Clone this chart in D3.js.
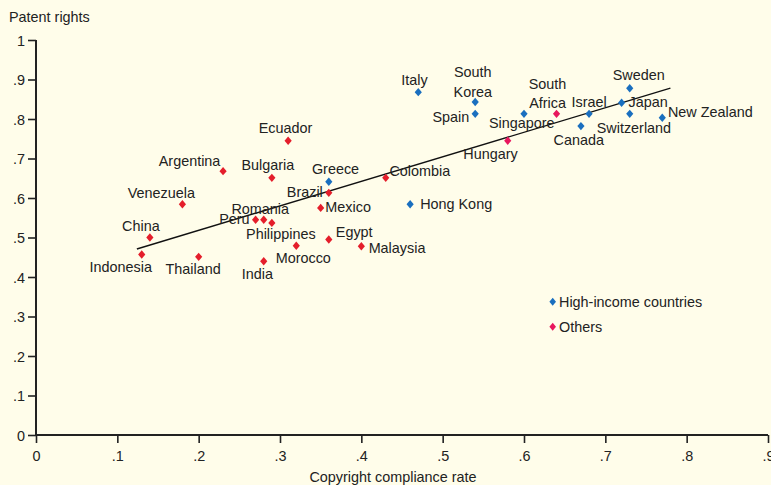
<!DOCTYPE html>
<html><head><meta charset="utf-8">
<script src="https://cdn.jsdelivr.net/npm/d3@7"></script>
<style>
html,body{margin:0;padding:0;background:#fffdea;}
svg{display:block;}
text{font-family:"Liberation Sans",Arial,sans-serif;fill:#222;}
</style></head><body>
<script>
// ---- data ----
const countries = ["Indonesia","China","Thailand","Venezuela","Argentina","Peru","Romania","Philippines","India","Bulgaria","Ecuador","Morocco","Mexico","Greece","Brazil","Egypt","Malaysia","Colombia","Hong Kong","Italy","South Korea","Spain","Hungary","Singapore","South Africa","Canada","Israel","Japan","Sweden","Switzerland","New Zealand"];
const copyright = [0.13,0.14,0.20,0.18,0.23,0.27,0.28,0.29,0.28,0.29,0.31,0.32,0.35,0.36,0.36,0.36,0.40,0.43,0.46,0.47,0.54,0.54,0.58,0.60,0.64,0.67,0.68,0.72,0.73,0.73,0.77];
const patent    = [0.457,0.50,0.451,0.584,0.668,0.545,0.545,0.537,0.44,0.651,0.745,0.479,0.575,0.641,0.613,0.495,0.478,0.651,0.584,0.868,0.843,0.813,0.745,0.813,0.813,0.782,0.813,0.841,0.878,0.813,0.803];
const group     = ["O","O","O","O","O","O","O","O","O","O","O","O","O","H","O","O","O","O","H","H","H","H","P","H","P","H","H","H","H","H","H"];
const fitX = [0.124, 0.78];
const fitY = [0.471, 0.878];
const xTicks = [0,0.1,0.2,0.3,0.4,0.5,0.6,0.7,0.8,0.9];
const yTicks = [0,0.1,0.2,0.3,0.4,0.5,0.6,0.7,0.8,0.9,1];
const legendItems = [["High-income countries","H"],["Others","P"]];

// ---- layout / style ----
const colors = {H:"#1a6fbf", O:"#e41e2b", P:"#e8175d"};
const lab = {
 "Indonesia":["middle",-21,18],"China":["middle",-9,-7],"Thailand":["middle",-5.5,17.6],
 "Venezuela":["middle",-21,-6.7],"Argentina":["middle",-33.5,-5.3],"Peru":["end",-6,4.3],
 "Romania":["middle",-3.5,-6],"Philippines":["middle",9,16.3],"India":["middle",-6.3,17.3],
 "Bulgaria":["middle",-4,-7.7],"Ecuador":["middle",-2.6,-7.4],"Morocco":["middle",7,17],
 "Mexico":["start",4.7,4.6],"Greece":["middle",6.7,-7.7],"Brazil":["end",-6,4.3],
 "Egypt":["start",7,-2],"Malaysia":["start",7.3,6.4],"Colombia":["start",3.7,-1.7],
 "Hong Kong":["start",10,4.7],"Italy":["middle",-3.7,-7.3],"South Korea":["middle",-2.4,-25.3],
 "Spain":["end",-6,8],"Hungary":["middle",-17.2,18.6],"Singapore":["middle",-2.3,14.3],
 "South Africa":["middle",-9,-24.7],"Canada":["middle",-2.2,19],"Israel":["middle",0,-6.7],
 "Japan":["start",7,4],"Sweden":["middle",9,-8.3],"Switzerland":["middle",4.2,18.7],
 "New Zealand":["start",5.7,-0.7]
};
const W=771,H=485;
const x = d3.scaleLinear().domain([0,0.9]).range([36,768]);
const y = d3.scaleLinear().domain([0,1]).range([435,40]);
const fs = 14.4;

const svg = d3.select("body").append("svg").attr("width",W).attr("height",H);
svg.append("rect").attr("width",W).attr("height",H).attr("fill","#fffdea");

const fmt = v => v===0?"0":(v===1?"1":d3.format(".1f")(v).replace(/^0/,""));

const xa = svg.append("g").attr("transform","translate(0,435)")
  .call(d3.axisBottom(x).tickValues(xTicks).tickSize(8).tickFormat(fmt));
const ya = svg.append("g").attr("transform","translate(36,0)")
  .call(d3.axisLeft(y).tickValues(yTicks).tickSize(8).tickFormat(fmt));
[xa,ya].forEach(a=>{
  a.select(".domain").attr("stroke","#222").attr("stroke-width",2);
  a.selectAll(".tick line").attr("stroke","#222").attr("stroke-width",1.6);
  a.selectAll(".tick text").attr("fill","#222").style("font-size",fs+"px")
   .style("font-family",'"Liberation Sans",Arial,sans-serif');
});
xa.select(".domain").attr("d",`M${x(0)},0H${x(0.9)}`);
ya.select(".domain").attr("d",`M0,${y(0)}V${y(1)}`);
xa.selectAll(".tick text").attr("dy","0.71em").attr("y",16);
ya.selectAll(".tick text").attr("x",-11).attr("dy","0.36em");

svg.append("text").attr("x",9).attr("y",22).style("font-size",fs+"px").text("Patent rights");
svg.append("text").attr("x",393).attr("y",482).attr("text-anchor","middle").style("font-size",fs+"px").text("Copyright compliance rate");

svg.append("line").attr("x1",x(fitX[0])).attr("y1",y(fitY[0])).attr("x2",x(fitX[1])).attr("y2",y(fitY[1]))
  .attr("stroke","#111").attr("stroke-width",1.4);

const diamond = (cx,cy,w=3.6,h=4.2)=>`M${cx},${cy-h}L${cx+w},${cy}L${cx},${cy+h}L${cx-w},${cy}Z`;

const data = countries.map((c,i)=>({c,x:copyright[i],y:patent[i],g:group[i]}));
svg.append("g").selectAll("path").data(data).join("path")
  .attr("d",d=>diamond(x(d.x),y(d.y))).attr("fill",d=>colors[d.g]);

const lg = svg.append("g").style("font-size",fs+"px");
data.forEach(d=>{
  const [anc,dx,dy]=lab[d.c];
  const px=x(d.x)+dx, py=y(d.y)+dy;
  const t = lg.append("text").attr("text-anchor",anc).attr("x",px).attr("y",py);
  if(d.c==="South Korea"||d.c==="South Africa"){
    const parts=d.c.split(" ");
    t.append("tspan").attr("x",px).attr("y",py).text(parts[0]);
    t.append("tspan").attr("x",px).attr("y",py+(d.c==="South Korea"?20:18.4)).text(parts[1]);
  } else t.text(d.c);
});

const leg = svg.append("g");
legendItems.forEach((it,i)=>{
  const ly = 301.7 + i*25;
  leg.append("path").attr("d",diamond(552.7,ly,3.3,4)).attr("fill",colors[it[1]]);
  leg.append("text").attr("x",559).attr("y",ly+5.5).style("font-size",fs+"px").text(it[0]);
});
</script>
</body></html>
